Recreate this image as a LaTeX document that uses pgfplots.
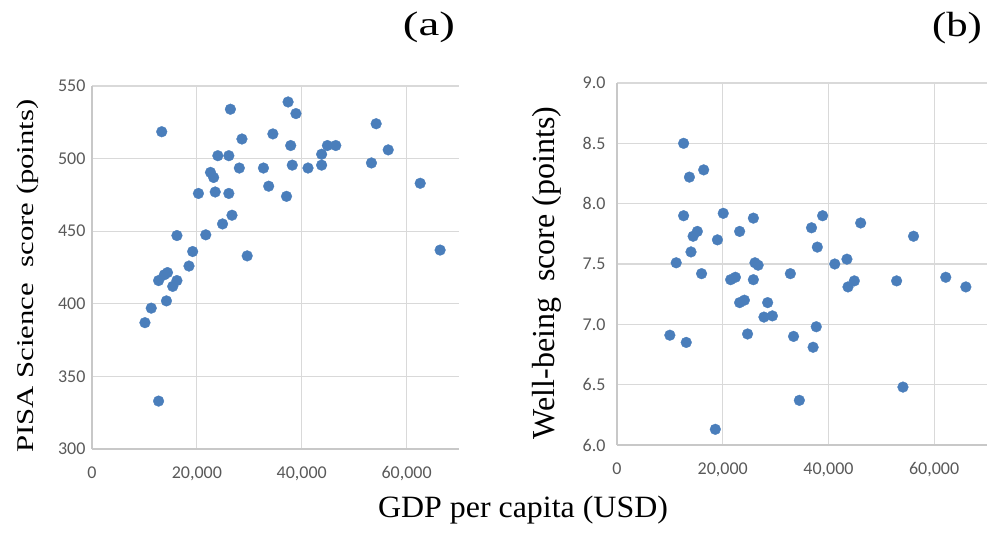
\documentclass[border=0pt]{standalone}
\usepackage{fontspec}
\setmainfont{Liberation Serif}
\newfontfamily\carlito{Carlito}
\usepackage{pgfplots}
\pgfplotsset{compat=1.18}

\definecolor{dotblue}{RGB}{74,126,187}
\definecolor{gridgray}{RGB}{217,217,217}
\definecolor{axisgray}{RGB}{200,200,200}
\definecolor{ticktext}{RGB}{89,89,89}

\pgfplotstableread{
x y
13300 518.5
26400 534
37400 539
38900 531
54200 524
34500 517
28600 513.5
37900 509
44900 509
46500 509
56500 506
43800 503
24000 502
26100 502
53300 497
43800 495.5
38200 495.5
41200 493.5
28100 493.5
32700 493.5
22600 490.5
23200 487
62600 483
33700 481
37100 474
20300 476
23500 477
26100 476
26700 461
24900 455
16200 447
21700 447.5
66400 437
19200 436
29600 433
18500 426
14400 421.5
13800 420
12700 416
16200 416
15400 412
14200 402
11300 397
10100 387
12700 333
}\pisa

\pgfplotstableread{
x y
12600 8.50
16400 8.28
13700 8.22
12600 7.90
20100 7.92
38900 7.90
25800 7.88
46100 7.84
36800 7.80
15200 7.77
14400 7.73
23200 7.77
56100 7.73
19000 7.70
37900 7.64
14000 7.60
11200 7.51
43500 7.54
41200 7.50
26100 7.51
26700 7.49
16000 7.42
32800 7.42
21500 7.37
22400 7.39
25800 7.37
52900 7.36
62200 7.39
44900 7.36
43700 7.31
66000 7.31
23200 7.18
24100 7.20
28500 7.18
27800 7.06
29400 7.07
37700 6.98
10000 6.91
24700 6.92
33400 6.90
13100 6.85
37100 6.81
54100 6.48
34500 6.37
18600 6.13
}\wellbeing

\pgfplotsset{
  excelscatter/.style={
    scale only axis,
    anchor=south west,
    xmin=0, xmax=70000,
    xtick={0,20000,40000,60000},
    scaled ticks=false,
    axis lines=left,
    axis line style={-, draw=axisgray, line width=1.2pt},
    major tick length=0pt,
    grid=major,
    major grid style={draw=gridgray, line width=1.2pt},
    tick label style={font=\fontsize{18}{18}\carlito, text=ticktext},
    /pgf/number format/assume math mode=true,
    xticklabel style={/pgf/number format/.cd, 1000 sep={,}, /tikz/.cd, yshift=-14pt},
    clip=false,
  },
  dots/.style={only marks, mark=*, mark size=5.4pt,
    mark options={fill=dotblue, draw=dotblue, line width=0.3pt}},
}

\begin{document}
\begin{tikzpicture}
\path[use as bounding box] (0pt,0pt) rectangle (991pt,536pt);

% (a) PISA science score against GDP
\begin{axis}[excelscatter,
  at={(92pt,87pt)}, width=367pt, height=363pt,
  ymin=300, ymax=550, ytick={300,350,...,550},
  yticklabel style={xshift=-3pt}]
  \addplot[dots] table[x=x, y=y] {\pisa};
\end{axis}

% (b) well-being score against GDP
\begin{axis}[excelscatter,
  at={(617pt,91pt)}, width=370pt, height=362pt,
  ymin=6, ymax=9, ytick={6,6.5,...,9},
  yticklabel style={xshift=-8pt, /pgf/number format/.cd, fixed, fixed zerofill, precision=1}]
  \addplot[dots] table[x=x, y=y] {\wellbeing};
\end{axis}

% panel letters and axis titles
\node at (429pt,508.5pt) {\scalebox{1.38}[1]{\fontsize{34}{34}\selectfont (a)}};
\node at (957pt,508pt) {\scalebox{1.22}[1]{\fontsize{35}{35}\selectfont (b)}};
\node[rotate=90] at (28pt,260pt) {\scalebox{1.28}[1]{\fontsize{24}{24}\selectfont PISA Science\ \ score (points)}};
\node[rotate=90] at (547pt,263pt) {\fontsize{32}{32}\selectfont Well-being\ \ score (points)};
\node at (523pt,26pt) {\scalebox{1.03}[1]{\fontsize{31}{31}\selectfont GDP per capita (USD)}};
\end{tikzpicture}
\end{document}
